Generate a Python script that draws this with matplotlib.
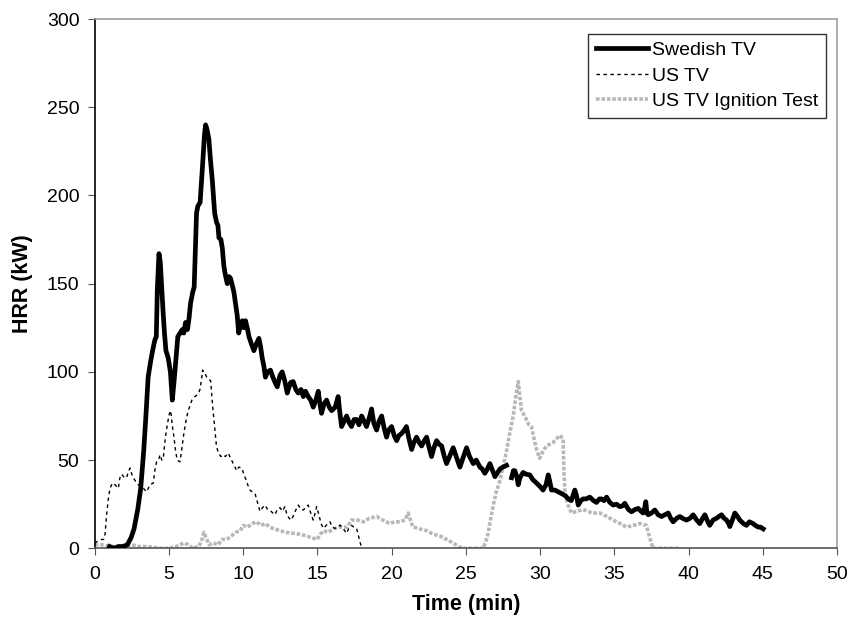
import matplotlib
matplotlib.use("Agg")
import matplotlib.pyplot as plt
import numpy as np

plt.rcParams["font.family"] = ["Liberation Sans", "DejaVu Sans"]

# Swedish TV (thick black)
sw_t = [1.0, 1.3, 1.6, 1.9, 2.2, 2.45, 2.65, 2.9, 3.1, 3.3, 3.45, 3.6, 3.75, 3.9, 4.05,
        4.15, 4.22, 4.33, 4.42, 4.5, 4.6, 4.7, 4.8, 4.95, 5.1, 5.23, 5.35, 5.45, 5.6, 5.75,
        5.9, 6.0, 6.12, 6.25, 6.35, 6.46, 6.6, 6.7, 6.86, 6.95, 7.1, 7.25, 7.4, 7.47, 7.55,
        7.69, 7.8, 7.92, 8.08, 8.2, 8.3, 8.37, 8.5, 8.6, 8.7, 8.8, 8.93, 9.05, 9.15, 9.3,
        9.38, 9.5, 9.6, 9.7, 9.8, 9.94, 10.05, 10.16, 10.3, 10.39, 10.55, 10.72, 10.9, 11.06,
        11.18, 11.28, 11.4, 11.5, 11.65, 11.84, 12.0, 12.15, 12.3, 12.48, 12.63, 12.8, 12.97,
        13.04, 13.2, 13.37, 13.55, 13.71, 13.9, 14.05, 14.2, 14.38, 14.55, 14.72, 14.9, 15.06,
        15.15, 15.28, 15.45, 15.62, 15.8, 15.96, 16.2, 16.4, 16.5, 16.63, 16.8, 16.97, 17.15,
        17.3, 17.47, 17.64, 17.8, 17.98, 18.15, 18.31, 18.5, 18.65, 18.8, 18.99, 19.15, 19.33,
        19.5, 19.66, 19.8, 20.0, 20.17, 20.34, 20.5, 20.67, 20.85, 21.0, 21.17, 21.35, 21.5,
        21.68, 21.85, 22.02, 22.2, 22.36, 22.5, 22.69, 22.85, 23.03, 23.2, 23.37, 23.55, 23.7,
        23.9, 24.15, 24.35, 24.6, 24.8, 25.05, 25.25, 25.5, 25.7, 25.95, 26.1, 26.28, 26.45,
        26.62, 26.8, 26.96, 27.15, 27.3, 27.5, 27.74, 27.9, 28.08, 28.2, 28.3, 28.45, 28.53,
        28.64, 28.86, 29.05, 29.31, 29.5, 29.76, 30.0, 30.2, 30.4, 30.55, 30.65, 30.77, 31.0,
        31.22, 31.45, 31.67, 31.9, 32.1, 32.34, 32.45, 32.57, 32.75, 32.9, 33.1, 33.35, 33.6,
        33.8, 34.0, 34.14, 34.3, 34.48, 34.7, 34.93, 35.15, 35.37, 35.55, 35.71, 35.95, 36.16,
        36.4, 36.61, 36.8, 36.94, 37.05, 37.12, 37.2, 37.28, 37.5, 37.73, 37.95, 38.18, 38.4,
        38.63, 38.8, 38.96, 39.2, 39.41, 39.6, 39.86, 40.1, 40.31, 40.55, 40.76, 40.95, 41.1,
        41.3, 41.43, 41.65, 41.88, 42.05, 42.22, 42.4, 42.56, 42.7, 42.78, 42.95, 43.12, 43.3,
        43.45, 43.7, 43.9, 44.1, 44.35, 44.5, 44.69, 44.85, 45.03]
sw_hrr = [1, 0, 1, 1, 2, 6, 11, 22, 34, 55, 75, 97, 105, 112, 118,
          120, 147, 167, 162, 150, 135, 122, 112, 108, 100, 84, 95, 105, 120, 122,
          124, 122, 128, 124, 130, 139, 145, 148, 190, 194, 196, 215, 235, 240, 238,
          232, 220, 209, 190, 185, 183, 176, 175, 170, 160, 155, 150, 154, 153, 148,
          145, 138, 132, 122, 126, 129, 125, 129, 124, 120, 116, 112, 116, 119,
          114, 108, 103, 97, 100, 101, 97, 94, 91.5, 98, 100, 95, 88,
          90, 94, 94.5, 90, 88, 90, 86, 89, 86, 84, 80, 84, 89,
          83, 76.5, 82, 84, 80, 78, 80, 86, 78, 69, 72, 75, 71,
          69, 73, 73, 70, 75, 72, 69, 74, 79, 71, 67, 72, 75,
          68, 63, 67, 69, 64, 61, 64, 65, 67, 69, 62, 56, 60,
          63, 60, 58, 61, 63, 58, 52, 57, 61, 59, 58, 52, 48,
          52, 57, 52, 46, 51, 57, 52, 48, 50, 46, 45, 42.5, 45,
          48, 44, 40.6, 43, 45, 46, 47, np.nan, 40, 44, 44, 40, 36,
          40, 43, 42, 41.6, 39, 37, 35, 33, 36, 41.6, 38, 33, 33,
          32, 31, 30, 28, 27, 33, 30, 24.5, 27, 28, 28, 29, 27,
          26, 28, 28, 27, 29, 26, 24.5, 25, 23.6, 24, 25.5, 22, 20.7,
          22, 22.6, 21, 20, 23, 26.4, 20, 19, 20, 21.7, 19, 18, 19,
          20, 17, 15, 17, 18, 17, 16, 17, 19, 16, 14, 17, 19,
          15, 13, 16, 17, 18, 19, 17, 16, 14, 12.3, 16, 20, 18,
          16, 14, 13, 15, 14, 13, 12, 12, 11]

# US TV (thin dashed black)
us_t = [0, 0.2, 0.45, 0.6, 0.7, 0.8, 0.92, 1.03, 1.2, 1.37, 1.59, 1.7, 1.82, 2.0, 2.15,
        2.25, 2.38, 2.5, 2.6, 2.75, 2.94, 3.1, 3.28, 3.5, 3.72, 3.95, 4.05, 4.17, 4.3, 4.4,
        4.52, 4.62, 4.75, 4.89, 5.02, 5.12, 5.22, 5.34, 5.45, 5.56, 5.74, 5.85, 5.97, 6.08,
        6.19, 6.3, 6.42, 6.55, 6.75, 6.9, 7.0, 7.09, 7.18, 7.27, 7.35, 7.43, 7.55, 7.65,
        7.81, 7.95, 8.1, 8.2, 8.33, 8.5, 8.66, 8.8, 9.0, 9.1, 9.22, 9.33, 9.45, 9.56, 9.7,
        9.9, 10.05, 10.23, 10.35, 10.46, 10.6, 10.8, 11.0, 11.13, 11.3, 11.47, 11.65, 11.8,
        12.0, 12.14, 12.3, 12.48, 12.65, 12.81, 12.95, 13.1, 13.26, 13.45, 13.71, 13.9,
        14.05, 14.2, 14.38, 14.55, 14.72, 14.85, 14.95, 15.1, 15.25, 15.4, 15.6, 15.85,
        16.0, 16.18, 16.35, 16.52, 16.75, 16.97, 17.1, 17.3, 17.45, 17.64, 17.8, 17.98]
us_hrr = [3, 4, 5, 5, 8, 19, 28, 34, 37, 36, 34, 40, 42, 40, 40,
          43, 45.5, 42, 40, 38, 36, 35, 34, 32, 36, 37, 44, 49, 50, 53,
          50, 51, 62, 70, 76, 78, 70, 63, 55, 50, 49, 55, 63, 69,
          74, 78, 81, 84, 86, 87, 88, 90, 95, 101, 99, 99, 97, 96,
          95, 80, 67, 58, 54, 52, 53, 52, 54, 52, 50, 48, 46, 44, 46,
          45.5, 42, 38, 35, 33, 32, 31, 25, 21, 23, 24.5, 22, 21.6,
          20, 19, 22, 23, 21, 23.6, 19, 17, 16, 20, 24.5, 22,
          21.7, 23, 24.5, 20, 16, 20, 23.6, 19, 14, 11.3, 13, 15,
          12, 11.3, 12, 13.2, 11, 8.5, 11, 13, 12, 11.3, 6, 0]

# US TV Ignition Test (grey)
ig_t = [0, 0.5, 1.0, 1.5, 2.0, 2.5, 3.0, 3.5, 4.0, 4.5, 5.0, 5.5, 6.0, 6.3, 6.6, 7.0,
        7.2, 7.35, 7.5, 7.7, 8.0, 8.3, 8.6, 8.9, 9.2, 9.5, 9.8, 10.0, 10.3, 10.6, 10.9,
        11.2, 11.5, 11.8, 12.1, 12.48, 12.9, 13.37, 13.8, 14.27, 14.6, 14.98, 15.2, 15.43,
        15.7, 16.1, 16.5, 17.0, 17.3, 17.7, 18.1, 18.5, 18.99, 19.4, 19.88, 20.2, 20.56,
        20.9, 21.12, 21.3, 21.46, 21.9, 22.36, 22.8, 23.25, 23.7, 24.15, 24.5, 24.82, 25.5,
        26.17, 26.35, 26.5, 26.7, 26.84, 27.05, 27.29, 27.5, 27.74, 27.95, 28.19, 28.35,
        28.53, 28.65, 28.75, 28.9, 29.08, 29.25, 29.42, 29.6, 29.76, 29.98, 30.2, 30.43,
        30.65, 30.88, 31.1, 31.33, 31.55, 31.6, 31.67, 31.85, 32.12, 32.5, 32.9, 33.5,
        34.03, 34.5, 34.93, 35.4, 35.82, 36.3, 36.72, 37.16, 37.35, 37.5, 37.6, 38.5, 39.4]
ig_hrr = [2, 2, 1, 1, 1, 2, 1, 1, 0.5, 0, 0, 1, 3, 2, 0, 1,
          4, 9, 6, 2, 3, 2, 5, 5, 7, 9, 10, 13, 12, 14, 15,
          13, 14, 12, 11, 10, 9, 8.5, 8, 7, 6, 5, 8, 10,
          9, 11, 12, 12, 16, 16, 15, 17, 18, 16, 14, 15, 15,
          16, 20, 15, 12, 11, 10, 8, 7, 5, 3, 1, 0, 0,
          0, 4, 8.5, 18, 24, 32, 38, 46, 55, 65, 75, 85,
          94.5, 85, 78, 76, 73, 70, 69, 62, 56, 51, 55, 58,
          59, 60, 62, 64, 62, 45, 33, 25, 20, 21, 22, 20,
          20, 18, 16, 14, 12, 13, 14, 13, 7, 3, 0, 0, 0]

fig = plt.figure(figsize=(8.5, 6.3), dpi=100)
ax = fig.add_axes([0.1114, 0.1297, 0.8733, 0.8401])

ax.plot(ig_t, ig_hrr, color="#b8b8b8", lw=2.6, ls=(0, (1, 0.5)),
        label="US TV Ignition Test", zorder=2)
ax.plot(us_t, us_hrr, color="black", lw=1.0, ls=(0, (2.5, 2.5)),
        label="US TV", zorder=3)
ax.plot(sw_t, sw_hrr, color="black", lw=3.4, solid_joinstyle="round",
        label="Swedish TV", zorder=4)

ax.set_xlim(0, 50)
ax.set_ylim(0, 300)
ax.set_xticks(range(0, 51, 5))
ax.set_yticks(range(0, 301, 50))
ax.tick_params(labelsize=14, length=5, direction="out", color="#555555")
ax.tick_params(axis="x", pad=8)
ax.tick_params(axis="y", pad=6)

ax.spines["left"].set_color("black")
ax.spines["bottom"].set_color("#555555")
ax.spines["top"].set_color("#a0a0a0")
ax.spines["right"].set_color("#a0a0a0")
for s in ax.spines.values():
    s.set_linewidth(1.2)

ax.set_xlabel("Time (min)", fontsize=15.5, fontweight="bold", labelpad=8)
ax.set_ylabel("HRR (kW)", fontsize=15.5, fontweight="bold", labelpad=10)

h, l = ax.get_legend_handles_labels()
leg = ax.legend(h[::-1], l[::-1], loc="upper right", bbox_to_anchor=(0.985, 0.972),
                borderaxespad=0, fontsize=14, frameon=True, fancybox=False,
                handlelength=2.7, handletextpad=0.18, labelspacing=0.4,
                borderpad=0.4)
leg.get_frame().set_edgecolor("black")
leg.get_frame().set_linewidth(1.0)

fig.savefig("out.png", dpi=100)
